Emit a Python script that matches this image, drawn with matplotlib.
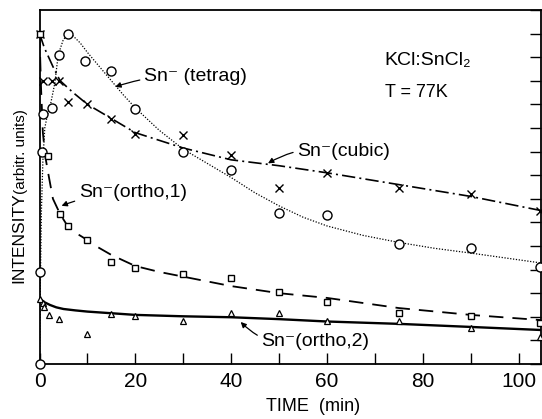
import matplotlib
matplotlib.use("Agg")
import matplotlib.pyplot as plt
import numpy as np

plt.rcParams['font.family'] = ['Liberation Sans', 'DejaVu Sans']

# ---- measured points ----
tetrag_t = [0, 0, 0.6, 0.8, 2.6, 4.1, 6.0, 9.6, 15, 20, 30, 40, 50, 60, 75, 90, 104.5]
tetrag_v = [0, 3.9, 9.0, 10.6, 10.85, 13.1, 14.0, 12.85, 12.4, 10.8, 9.0, 8.2, 6.4, 6.3, 5.1, 4.9, 4.1]

cubic_t = [0, 0.8, 2.6, 4.1, 6.0, 10, 15, 20, 30, 40, 50, 60, 75, 90, 104.5]
cubic_v = [14.0, 12.0, 12.0, 12.0, 11.1, 11.0, 10.4, 9.75, 9.7, 8.85, 7.45, 8.1, 7.45, 7.2, 6.5]

ortho1_t = [0, 1.8, 4.2, 6.0, 10, 15, 20, 30, 40, 50, 60, 75, 90, 104.5]
ortho1_v = [14.0, 8.8, 6.35, 5.85, 5.25, 4.3, 4.07, 3.8, 3.65, 3.05, 2.63, 2.16, 2.03, 1.74]

ortho2_t = [0, 0.7, 1.0, 2.0, 4.0, 10, 15, 20, 30, 40, 50, 60, 75, 90, 104.5]
ortho2_v = [2.75, 2.57, 2.43, 2.08, 1.9, 1.27, 2.1, 2.03, 1.82, 2.15, 2.17, 1.82, 1.8, 1.53, 1.15]

# ---- fitted curves ----
fit_tetrag_t = [0, 0.15, 0.4, 0.7, 1.1, 1.6, 2.2, 3.2, 3.9, 4.9, 5.9, 7, 8.5, 10, 12.5, 15, 17.5,
                20, 25, 30, 35, 40, 45, 50, 55, 60, 67.5, 75, 82.5, 90, 104.7]
fit_tetrag_v = [0, 3, 6.5, 8.6, 10.0, 10.5, 10.9, 11.9, 13.1, 13.7, 14.0, 13.9, 13.6, 13.2, 12.6,
                12.0, 11.4, 10.85, 9.9, 9.1, 8.5, 7.9, 7.25, 6.7, 6.22, 5.85, 5.45, 5.15, 4.9, 4.7, 4.28]

fit_cubic_t = [0, 1, 2.8, 4.3, 7, 10, 15, 20, 30, 40, 50, 60, 75, 90, 104.7]
fit_cubic_v = [14, 13.4, 12.6, 12.0, 11.5, 11.0, 10.4, 9.8, 9.15, 8.65, 8.4, 8.1, 7.6, 7.1, 6.5]

fit_ortho1_t = [0, 0.3, 0.7, 1.2, 1.8, 2.8, 4.3, 6, 8, 10, 12, 15, 20, 25, 30, 40, 50, 60, 75, 90, 104.7]
fit_ortho1_v = [14, 11.8, 9.8, 8.8, 8.1, 7.0, 6.35, 5.8, 5.5, 5.25, 4.97, 4.62, 4.15, 3.9, 3.7,
                3.3, 3.0, 2.8, 2.37, 2.08, 1.86]

fit_ortho2_t = [0, 0.5, 1, 2.2, 3.5, 5, 7.5, 10, 15, 20, 30, 40, 50, 60, 75, 90, 104.7]
fit_ortho2_v = [2.8, 2.7, 2.62, 2.5, 2.4, 2.33, 2.27, 2.22, 2.15, 2.08, 2.02, 1.98, 1.9, 1.8,
                1.7, 1.57, 1.44]

xticks = [0, 10, 20, 30, 40, 50, 60, 70, 80, 90, 100]
xticklabels = ['0', '', '20', '', '40', '', '60', '', '80', '', '100']

fig = plt.figure(figsize=(5.42, 4.19), dpi=100)
ax = fig.add_axes([0.0729, 0.1313, 0.9253, 0.845])

# curves
ax.plot(fit_tetrag_t, fit_tetrag_v, color='k', lw=0.9, dashes=(1, 1.3))
ax.plot(fit_cubic_t, fit_cubic_v, color='k', lw=1.2, dashes=(8, 2.5, 1.2, 2.5))
ax.plot(fit_ortho1_t, fit_ortho1_v, color='k', lw=1.3, dashes=(8, 5))
ax.plot(fit_ortho2_t, fit_ortho2_v, color='k', lw=1.7, ls='-')

# markers
ax.plot(tetrag_t, tetrag_v, ls='none', marker='o', ms=6.5, mfc='white', mec='k', mew=1.0, clip_on=False, zorder=3)
ax.plot(cubic_t, cubic_v, ls='none', marker='x', ms=5.5, mec='k', mew=1.0, clip_on=False, zorder=3)
ax.plot(ortho1_t, ortho1_v, ls='none', marker='s', ms=5, mfc='white', mec='k', mew=1.0, clip_on=False, zorder=3)
ax.plot(ortho2_t, ortho2_v, ls='none', marker='^', ms=4.5, mfc='white', mec='k', mew=0.9, clip_on=False, zorder=3)

ax.set_xlim(0, 104.7)
ax.set_ylim(0, 15)
ax.set_xticks(xticks)
ax.set_xticklabels(xticklabels)
ax.tick_params(axis='x', direction='in', length=8, width=1.0, labelsize=15, pad=6, top=False)
ax.yaxis.set_ticks_position('right')
ax.set_yticks(np.arange(0, 16, 1))
ax.tick_params(axis='y', direction='in', length=8, width=1.0, labelright=False, labelleft=False)
for s in ax.spines.values():
    s.set_linewidth(1.3)

arrow = dict(arrowstyle='-|>', color='k', lw=0.9, mutation_scale=8, shrinkA=1, shrinkB=0)
fs = 14
ax.annotate('Sn⁻ (tetrag)', xy=(15.8, 11.74), xytext=(21.8, 12.2), fontsize=fs, ha='left', va='center',
            arrowprops=dict(arrow, connectionstyle='arc3,rad=0.1'))
ax.annotate('Sn⁻(cubic)', xy=(47.7, 8.5), xytext=(53.8, 9.0), fontsize=fs, ha='left', va='center',
            arrowprops=dict(arrow, connectionstyle='arc3,rad=0.2'))
ax.annotate('Sn⁻(ortho,1)', xy=(4.6, 6.7), xytext=(8.2, 7.25), fontsize=fs, ha='left', va='center',
            arrowprops=dict(arrow, connectionstyle='arc3,rad=0.1'))
ax.annotate('Sn⁻(ortho,2)', xy=(42, 1.78), xytext=(46.3, 0.97), fontsize=fs, ha='left', va='center',
            arrowprops=dict(arrow, connectionstyle='arc3,rad=-0.3'))

ax.text(72.1, 12.67, 'KCl:SnCl₂', fontsize=fs, ha='left', va='baseline')
ax.text(72.1, 11.31, 'T = 77K', fontsize=13, ha='left', va='baseline')

fig.text(313 / 542, 1 - 398 / 419, 'TIME  (min)', fontsize=13, ha='center', va='top')
fig.text(19 / 542, 1 - 283 / 419, 'INTENSITY', fontsize=12.5, rotation=90, ha='center', va='bottom')
fig.text(21 / 542, 1 - 194 / 419, '(arbitr. units)', fontsize=11, rotation=90, ha='center', va='bottom')

fig.savefig('out.png', dpi=100)
